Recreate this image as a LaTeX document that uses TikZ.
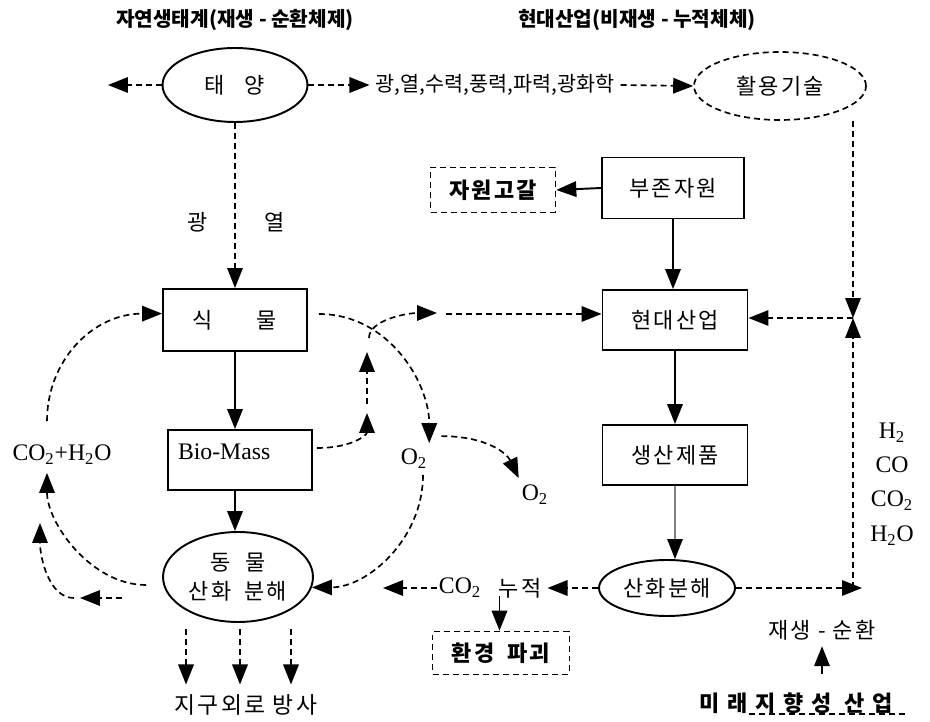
\documentclass[tikz,border=0pt]{standalone}
\usepackage{fontspec}
\setmainfont{Liberation Serif}
\newfontfamily\kr{Noto Sans CJK KR}
\newfontfamily\krs[LetterSpace=10]{Noto Sans CJK KR}
\newfontfamily\krw[LetterSpace=36]{Noto Sans CJK KR}
\usetikzlibrary{arrows.meta,positioning,calc,shapes.geometric}

\begin{document}
\begin{tikzpicture}[
    x=0.02cm, y=-0.02cm,
    font=\krs\fontsize{12.5}{15}\selectfont,
    >={Triangle[length=4mm,width=3.1mm]},
    title/.style={font=\kr\bfseries\fontsize{11.5}{13}\selectfont},
    plain/.style={font=\kr\fontsize{11.8}{14}\selectfont},
    lat/.style={font=\rmfamily\fontsize{13.5}{19.5}\selectfont, inner sep=1pt},
    box/.style={draw, line width=1.1pt, minimum width=2.9cm, minimum height=1.2cm},
    dline/.style={line width=0.95pt, dash pattern=on 1.2mm off 0.8mm},
    dbox/.style={draw, dline, minimum height=0.9cm, font=\krs\bfseries\fontsize{12.5}{15}\selectfont},
    oval/.style={ellipse, draw, line width=1.1pt, inner sep=0pt},
    darr/.style={dline, ->},
    sarr/.style={->, line width=1.1pt},
    thinarr/.style={draw=gray, line width=0.6pt, -{Triangle[length=4mm,width=3.1mm,color=black]}},
]
    \fill[white] (0,0) rectangle (930,722);
    \useasboundingbox (0,0) rectangle (930,722);

    % =====================================================================
    % TITLES AND SUN ROW
    % =====================================================================
    \node[title] (natT) at (235,20) {자연생태계(재생 - 순환체제)};
    \node[title] (indT) at (637,20) {현대산업(비재생 - 누적체체)};

    \node[oval, minimum width=2.9cm, minimum height=1.48cm] (sun) at (235,85) {태\hspace{0.9em}양};
    \node[plain] (light) at (495,85) {광,열,수력,풍력,파력,광화학};
    \node[oval, dline, minimum width=3.44cm, minimum height=1.36cm] (tech) at (780,86) {활용기술};
    \coordinate (sunW) at (108,85);
    \draw[darr] (sun.west) -- (sunW);
    \draw[darr] (sun.east) -- (light.west);
    \draw[darr] (light.east) -- (tech.west);

    % =====================================================================
    % NATURAL CYCLE
    % =====================================================================
    \node (gw) at (198,222) {광};
    \node (yl) at (275,222) {열};
    \node[box, minimum width=2.88cm, minimum height=1.24cm] (plant) at (235,320) {식\hspace{2em}물};
    \node[box, lat, minimum width=2.88cm, text width=2.48cm, inner xsep=0.2cm, align=left,
          text height=10pt, text depth=10pt] (bio) at (240,460) {Bio-Mass};
    \node[oval, minimum width=3cm, minimum height=1.8cm, align=center,
          font=\krs\fontsize{12.5}{16.5}\selectfont] (animal) at (238,577) {동\hspace{0.7em}물\\산화\hspace{0.6em}분해};
    \node[lat] (cw) at (62,455) {CO\textsubscript{2}+H\textsubscript{2}O};
    \node[lat] (o2a) at (414,459) {O\textsubscript{2}};
    \node[lat] (o2b) at (535,495) {O\textsubscript{2}};
    \node[font=\krs\fontsize{13}{15}\selectfont] (ray) at (246,705) {지구외로 방사};

    \draw[darr] (sun.south) -- (plant.north);
    \draw[sarr] (plant.south) -- (plant.south |- bio.north);
    \draw[sarr] (plant.south |- bio.south) -- (plant.south |- animal.north);
    \foreach \dx in {-52,2,53}
        \draw[darr] ($(animal.south)+(\dx,6)$) -- ($(animal.south |- ray.north)+(\dx,-4)$);

    % CO2 + H2O return
    \draw[darr] ($(cw.north)+(-15,-22)$) .. controls +(0,-60) and +(-70,0) .. (plant.175);
    \draw[darr] ($(animal.west)+(-16,8)$) .. controls +(-55,0) and +(0,50) .. ($(cw.south)+(-15,6)$);
    \coordinate (ret1) at (122,598);
    \coordinate (ret2) at (80,598);
    \coordinate (ret3) at (40,523);
    \draw[darr] (ret1) -- (ret2);
    \draw[darr] ($(ret2)+(-6,0)$) .. controls +(-25,0) and +(0,35) .. (ret3);

    % O2 paths
    \draw[darr] ($(plant.east)+(11,-6)$) .. controls +(70,0) and +(0,-60) .. ($(o2a.north east)+(0,-4)$);
    \draw[darr] ($(o2a.north east)+(12,-11)$) .. controls +(45,0) and +(-12,-25) .. ($(o2b.north west)+(-1,-5)$);
    \draw[darr] ($(o2a.south)+(9,4)$) .. controls +(0,65) and +(55,0) .. (animal.-8);

    % Bio-Mass feeding industry
    \coordinate (j1) at (367,413);
    \coordinate (j2) at (367,404);
    \coordinate (j3) at (367,352);
    \coordinate (j4) at (369,338);
    \coordinate (j5) at (437,313);
    \coordinate (j6) at (446,314);
    \draw[darr] ($(bio.east)+(4,-12)$) .. controls +(35,0) and +(0,22) .. (j1);
    \draw[darr] (j2) -- (j3);
    \draw[darr] (j4) .. controls +(0,-18) and +(-30,0) .. (j5);

    % =====================================================================
    % MODERN INDUSTRY
    % =====================================================================
    \node[box, minimum width=2.84cm, minimum height=1.22cm] (res) at (673,188) {부존자원};
    \node[dbox, minimum width=2.5cm] (exh) at (493,190) {자원고갈};
    \node[box] (ind) at (675,320) {현대산업};
    \node[box] (prod) at (675,455) {생산제품};
    \node[oval, minimum width=2.72cm, minimum height=1.12cm] (oxid) at (667,588) {산화분해};
    \node[lat] (co2) at (460,588) {CO\textsubscript{2}};
    \node (acc) at (520,588) {누적};
    \node[dbox, minimum width=2.74cm, minimum height=0.86cm] (env) at (501,653) {환경\hspace{0.6em}파괴};

    \draw[darr] (j6) -- (j6 -| ind.west);
    \draw[sarr] (res.west) -- (exh.east);
    \draw[sarr] (res.south) -- (res.south |- ind.north);
    \draw[sarr] (ind.south) -- (prod.north);
    \draw[thinarr] (prod.south) -- (prod.south |- oxid.north);
    \draw[darr] (oxid.west) -- (acc.east);
    \coordinate (co2W) at (383,588);
    \draw[darr] (co2.west) -- (co2W);
    \coordinate (accD) at ($(acc.south west)+(7,-8)$);
    \draw[sarr] (accD) -- (accD |- env.north);

    % right-hand regeneration loop
    \node[lat, align=center] (gas) at (892,484) {H\textsubscript{2}\\CO\\CO\textsubscript{2}\\H\textsubscript{2}O};
    \coordinate (bow) at (853,318);
    \coordinate (rc) at (862,588);
    \draw[darr] (bow |- tech.south) -- (bow);
    \draw[darr] (bow) -- (ind.east |- bow);
    \draw[darr] (oxid.east) -- (oxid.east -| rc);
    \draw[darr] (bow |- oxid.east) -- (bow);

    \node (cyc) at (822,630) {재생 - 순환};
    \node[font=\krw\bfseries\fontsize{12.5}{14}\selectfont] (fut) at (796,703) {미래지향성 산업};
    \draw[sarr] ($(fut.north -| cyc.south)+(0,-12)$) -- (cyc.south);
    \draw[dline] (749,714) -- (905,714);

\end{tikzpicture}
\end{document}
